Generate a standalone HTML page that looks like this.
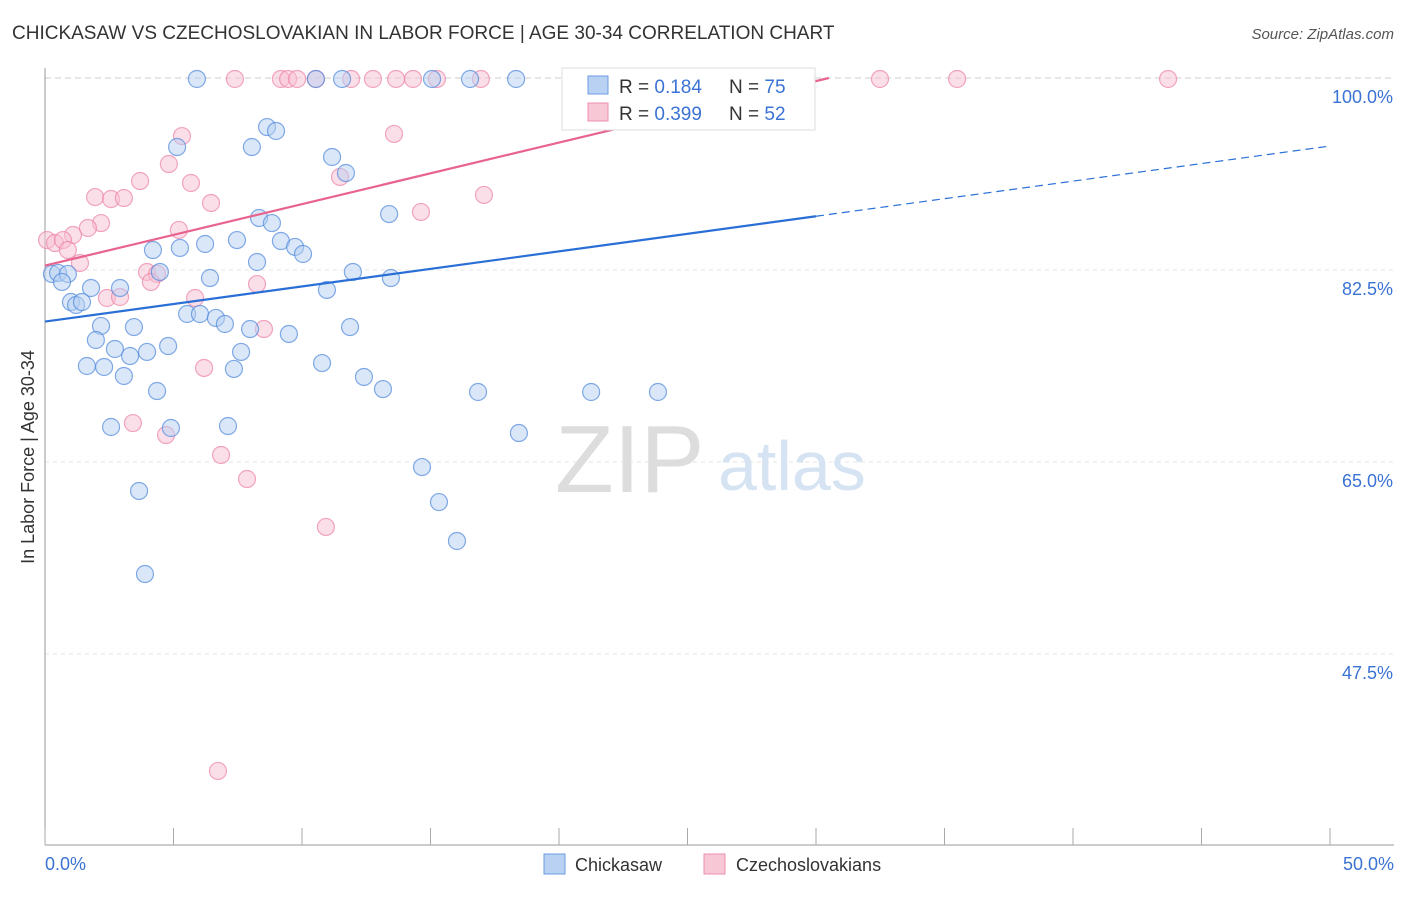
<!DOCTYPE html>
<html><head><meta charset="utf-8"><style>
body{margin:0;background:#fff;font-family:"Liberation Sans",sans-serif}
svg text{font-family:"Liberation Sans",sans-serif}
</style></head><body>
<svg id="c" width="1406" height="892">
<text x="12" y="39" font-size="19" fill="#333">CHICKASAW VS CZECHOSLOVAKIAN IN LABOR FORCE | AGE 30-34 CORRELATION CHART</text>
<text x="1394" y="39" font-size="15" fill="#555" text-anchor="end" font-style="italic">Source: ZipAtlas.com</text>
<g id="grid"></g>
<text x="555" y="492" font-size="96" fill="#ddd" font-family="Liberation Serif">ZIP</text>
<text x="718" y="490" font-size="70" fill="#d6e3f3">atlas</text>
<line x1="45" y1="68" x2="45" y2="845" stroke="#999"/>
<line x1="45" y1="845" x2="1394" y2="845" stroke="#999"/>
<g id="ticks"></g>
<g id="pts"></g>
<g id="lines"></g>
<text transform="translate(34,457) rotate(-90)" font-size="18" fill="#333" text-anchor="middle">In Labor Force | Age 30-34</text>
<text x="45" y="870" font-size="18" fill="#3b73d4">0.0%</text>
<text x="1394" y="870" font-size="18" fill="#3b73d4" text-anchor="end">50.0%</text>
<g>
<rect x="562" y="68" width="253" height="62" fill="#fff" stroke="#ddd"/>
<rect x="588" y="76" width="20" height="18" fill="#b9d2f3" stroke="#6a9be0"/>
<rect x="588" y="103" width="20" height="18" fill="#f8c7d6" stroke="#ec8fae"/>
<text x="619" y="93" font-size="19" fill="#333">R = <tspan fill="#3b73d4">0.184</tspan><tspan x="729">N = </tspan><tspan fill="#3b73d4">75</tspan></text>
<text x="619" y="120" font-size="19" fill="#333">R = <tspan fill="#3b73d4">0.399</tspan><tspan x="729">N = </tspan><tspan fill="#3b73d4">52</tspan></text>
</g>
<g>
<rect x="544" y="854" width="21" height="20" fill="#b9d2f3" stroke="#6a9be0"/>
<text x="575" y="871" font-size="18" fill="#333">Chickasaw</text>
<rect x="704" y="854" width="21" height="20" fill="#f8c7d6" stroke="#ec8fae"/>
<text x="736" y="871" font-size="18" fill="#333">Czechoslovakians</text>
</g>
</svg>
<script>
const yTicks=[100,82.5,65,47.5];
const yTickLabels=["100.0%","82.5%","65.0%","47.5%"];
const bluePx=[[197,79],[316,79],[342,79],[432,79],[470,79],[516,79],[706,79],[177,147],[252,147],[267,127],[276,131],[332,157],[346,173],[389,214],[259,218],[272,223],[153,250],[180,248],[205,244],[237,240],[281,241],[295,247],[303,254],[257,262],[52,274],[58,273],[68,274],[62,282],[160,272],[210,278],[353,272],[391,278],[327,290],[91,288],[120,288],[71,302],[76,305],[82,302],[187,314],[200,314],[216,318],[225,324],[250,329],[289,334],[350,327],[101,326],[134,327],[96,340],[115,349],[130,356],[147,352],[168,346],[241,352],[87,366],[104,367],[124,376],[234,369],[322,363],[364,377],[383,389],[157,391],[478,392],[591,392],[658,392],[111,427],[171,428],[228,426],[519,433],[422,467],[439,502],[139,491],[457,541],[145,574]];
const pinkPx=[[235,79],[281,79],[288,79],[297,79],[316,79],[351,79],[373,79],[396,79],[413,79],[437,79],[481,79],[572,79],[880,79],[957,79],[1168,79],[182,136],[394,134],[169,164],[140,181],[191,183],[340,177],[95,197],[111,199],[124,198],[211,203],[484,195],[421,212],[101,223],[88,228],[73,235],[179,230],[47,240],[55,243],[63,240],[68,250],[80,263],[147,272],[157,274],[151,282],[257,284],[107,298],[120,297],[195,298],[264,329],[204,368],[133,423],[166,435],[221,455],[247,479],[326,527],[218,771]];
// data values (x %, y %) derived from picture
const blueX=bluePx.map(p=>+((p[0]-45)/1285*50).toFixed(2));
const blueY=bluePx.map(p=>+(100-(p[1]-78)/192*17.5).toFixed(2));
const pinkX=pinkPx.map(p=>+((p[0]-45)/1285*50).toFixed(2));
const pinkY=pinkPx.map(p=>+(100-(p[1]-78)/192*17.5).toFixed(2));
const blueTrend=[[0,77.8],[30,87.4],[50,93.8]];
const pinkTrend=[[0,82.9],[30.5,100]];
const sx=v=>45+v/50*1285, sy=v=>78+(100-v)/17.5*192;
const NS="http://www.w3.org/2000/svg";
function mk(t,a,p){const e=document.createElementNS(NS,t);for(const k in a)e.setAttribute(k,a[k]);p.appendChild(e);return e;}
const g=document.getElementById('grid');
yTicks.forEach((t,i)=>{
 const l=mk('line',{x1:45,x2:1394,y1:sy(t),y2:sy(t),stroke:i==0?'#ccc':'#e6e6e6','stroke-dasharray':i==0?'6,4':'4,4'},g);
 
 
 const tx=mk('text',{x:1393,y:sy(t)+25,'font-size':18,fill:'#3b73d4','text-anchor':'end'},g);
 tx.textContent=yTickLabels[i];
 
 
});
const tk=document.getElementById('ticks');
for(let i=0;i<=10;i++){const x=sx(i*5);const l=mk('line',{x1:x,x2:x,y1:828,y2:845,stroke:'#aaa'},tk);
 
 }
const pg=document.getElementById('pts');
function pts(X,Y,f,s,n){X.forEach((x,i)=>{const c=mk('circle',{cx:sx(x),cy:sy(Y[i]),r:8.5,fill:f,'fill-opacity':0.5,stroke:s,'stroke-opacity':0.7,'stroke-width':1.2},pg);
 
 });}
pts(pinkX,pinkY,'#f8c0d2','#ec82a6','czech-point');
pts(blueX,blueY,'#b5cff2','#4f88dc','chickasaw-point');
const lg=document.getElementById('lines');
let l1=mk('line',{x1:sx(blueTrend[0][0]),y1:sy(blueTrend[0][1]),x2:sx(blueTrend[1][0]),y2:sy(blueTrend[1][1]),stroke:'#2a6fd6','stroke-width':2.2},lg);


let l2=mk('line',{x1:sx(blueTrend[1][0]),y1:sy(blueTrend[1][1]),x2:sx(blueTrend[2][0]),y2:sy(blueTrend[2][1]),stroke:'#2a6fd6','stroke-width':1.2,'stroke-dasharray':'8,5'},lg);


let l3=mk('line',{x1:sx(pinkTrend[0][0]),y1:sy(pinkTrend[0][1]),x2:sx(pinkTrend[1][0]),y2:sy(pinkTrend[1][1]),stroke:'#e8648f','stroke-width':2.2},lg);


</script>
</body></html>
